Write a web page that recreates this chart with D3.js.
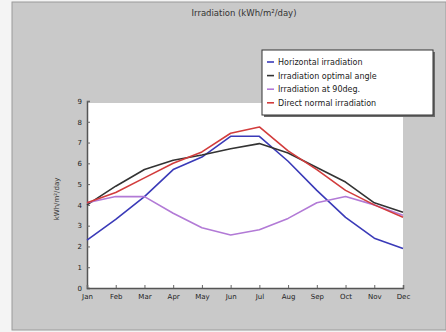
<!DOCTYPE html>
<html>
<head>
<meta charset="utf-8">
<script src="https://cdn.jsdelivr.net/npm/d3@7"></script>
<style>
  html, body { margin: 0; padding: 0; background: #f4f4f4; }
  svg { display: block; }
  text { font-family: "DejaVu Sans", sans-serif; fill: #222; }
</style>
</head>
<body>
<svg id="chart" width="446" height="332"></svg>
<script>
// Monthly irradiation, kWh/m²/day
const months = ["Jan", "Feb", "Mar", "Apr", "May", "Jun", "Jul", "Aug", "Sep", "Oct", "Nov", "Dec"];
const yTicks = [0, 1, 2, 3, 4, 5, 6, 7, 8, 9];

const horizontal = [2.3, 3.3, 4.4, 5.7, 6.3, 7.3, 7.3, 6.1, 4.7, 3.4, 2.4, 1.9];
const optimalAngle = [4.0, 4.9, 5.7, 6.15, 6.4, 6.7, 6.95, 6.5, 5.8, 5.1, 4.1, 3.65];
const at90 = [4.1, 4.4, 4.4, 3.6, 2.9, 2.55, 2.8, 3.35, 4.1, 4.4, 4.0, 3.5];
const directNormal = [4.1, 4.6, 5.3, 6.0, 6.55, 7.45, 7.75, 6.6, 5.7, 4.7, 4.0, 3.4];

const seriesNames = ["Horizontal irradiation", "Irradiation optimal angle", "Irradiation at 90deg.", "Direct normal irradiation"];
const seriesValues = [horizontal, optimalAngle, at90, directNormal];
const seriesColors = ["#3a3ab8", "#333333", "#b27ad6", "#d23c3c"];

const svg = d3.select("#chart");

// outer panel
svg.append("rect").attr("x", 12).attr("y", 2).attr("width", 434).attr("height", 328)
  .attr("fill", "#c9c9c9").attr("stroke", "#9a9a9a").attr("stroke-width", 1);

const plot = { left: 87, right: 403, top: 101, bottom: 288 };

const x = d3.scalePoint().domain(months).range([plot.left, plot.right]);
const y = d3.scaleLinear().domain([0, 9]).range([plot.bottom, plot.top]);

// plot background
svg.append("rect").attr("x", plot.left).attr("y", plot.top + 2)
  .attr("width", plot.right - plot.left).attr("height", plot.bottom - plot.top - 2)
  .attr("fill", "#ffffff");

// title
svg.append("text").attr("x", 244).attr("y", 16).attr("text-anchor", "middle")
  .attr("font-size", 8.5).style("fill", "#333").text("Irradiation (kWh/m²/day)");

// y axis label
svg.append("text").attr("transform", "translate(59,199) rotate(-90)")
  .attr("text-anchor", "middle").attr("font-size", 7).style("fill", "#333").text("kWh/m²/day");

// axes
const yAxis = d3.axisLeft(y).tickValues(yTicks).tickSize(-3).tickPadding(5).tickFormat(d3.format("d"));
const gy = svg.append("g").attr("transform", `translate(${plot.left},0)`).call(yAxis);
gy.selectAll("text").attr("font-size", 7);

const xAxis = d3.axisBottom(x).tickSize(-3).tickPadding(6);
const gx = svg.append("g").attr("transform", `translate(0,${plot.bottom})`).call(xAxis);
gx.selectAll("text").attr("font-size", 7);

[gx, gy].forEach(g => {
  g.select(".domain").attr("stroke", "#555").attr("stroke-width", 1.5);
  g.selectAll(".tick line").attr("stroke", "#666");
});

// series lines
const line = d3.line().x((d, i) => x(months[i])).y(d => y(d));
seriesValues.forEach((vals, k) => {
  svg.append("path").datum(vals).attr("d", line)
    .attr("fill", "none").attr("stroke", seriesColors[k])
    .attr("stroke-width", 1.6).attr("stroke-linejoin", "round");
});

// legend
const lg = svg.append("g").attr("transform", "translate(262,50)");
lg.append("rect").attr("x", 2).attr("y", 2).attr("width", 171).attr("height", 65).attr("fill", "#6a6a6a");
lg.append("rect").attr("width", 171).attr("height", 65).attr("fill", "#ffffff")
  .attr("stroke", "#333").attr("stroke-width", 1);
seriesNames.forEach((name, k) => {
  const yy = 12 + k * 13.6;
  lg.append("line").attr("x1", 5).attr("x2", 12).attr("y1", yy).attr("y2", yy)
    .attr("stroke", seriesColors[k]).attr("stroke-width", 1.6);
  lg.append("text").attr("x", 16).attr("y", yy + 3).attr("font-size", 8).text(name);
});
</script>
</body>
</html>
